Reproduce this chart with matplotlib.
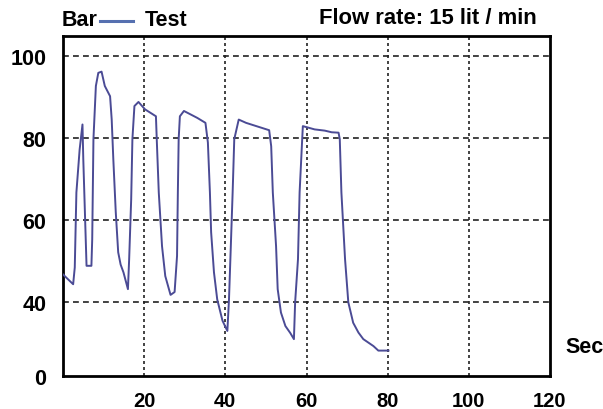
import matplotlib
matplotlib.use("Agg")
import matplotlib.pyplot as plt
from matplotlib.lines import Line2D

plt.rcParams['font.family'] = ['Liberation Sans', 'DejaVu Sans']
plt.rcParams['font.weight'] = 'bold'

# time (s) and pressure (bar)
time_s = [0, 2.5, 2.9, 3.3, 4.1, 4.8, 5.0, 5.6, 5.8, 7.0,
          7.2, 7.5, 8.1, 8.7, 9.5, 10.3, 11.6, 12.0, 12.4, 13.0, 13.6, 14.2, 14.9, 16.0,
          16.3, 16.8, 17.1, 17.6, 18.6, 20.2, 22.9, 23.1, 23.6, 24.4, 25.2, 26.5,
          27.5, 28.1, 28.3, 28.5, 28.8, 29.8, 33.1, 35.1, 35.7, 36.2, 36.5, 37.2, 38.0, 39.3, 40.5,
          40.9, 41.3, 41.8, 42.2, 43.3, 45.1, 50.8, 51.3, 51.7, 52.5, 52.9, 53.7, 54.8, 56.0, 56.9,
          57.2, 57.9, 58.3, 58.9, 59.1, 62.0, 64.5, 66.2, 67.9, 68.2, 68.6, 69.5, 70.3, 71.5, 72.8,
          74.0, 76.5, 77.7, 80.2]
pressure = [46.8, 44.4, 48.5, 66.8, 77.3, 83.4, 74.9, 55.4, 48.9, 48.9,
            55.4, 79.8, 92.8, 96.0, 96.3, 92.8, 90.3, 84.6, 74.9, 62.0, 52.2, 49.2, 47.3, 43.2,
            50.5, 65.1, 79.8, 87.9, 88.9, 87.1, 85.4, 79.8, 66.8, 53.7, 46.4, 41.8,
            42.5, 51.3, 66.8, 79.8, 85.4, 86.7, 85.0, 83.8, 79.0, 66.8, 57.1, 47.3, 40.7, 35.5, 33.0,
            40.7, 52.2, 66.8, 79.8, 84.6, 83.8, 82.0, 78.1, 66.8, 53.7, 43.2, 37.5, 34.2, 32.5, 31.0,
            40.0, 50.5, 66.8, 79.0, 83.0, 82.2, 81.9, 81.5, 81.4, 79.8, 66.8, 50.5, 40.0, 35.0, 32.6,
            31.0, 29.3, 28.2, 28.2]

x_ticks = [20, 40, 60, 80, 100, 120]
y_tick_pos = [22, 40, 60, 80, 100]
y_tick_labels = ['0', '40', '60', '80', '100']

fig = plt.figure(figsize=(6.03, 4.10), dpi=100)
ax = fig.add_axes([63/603, 1-377/410, (550-63)/603, (377-37)/410])

ax.plot(time_s, pressure, color='#4b4b95', lw=1.4, zorder=3)

ax.set_xlim(0, 120)
ax.set_ylim(22, 105)
ax.set_xticks(x_ticks)
ax.set_yticks(y_tick_pos)
ax.set_yticklabels(y_tick_labels)
ax.tick_params(length=0, labelsize=14.5)
ax.tick_params(axis='x', pad=11)
ax.tick_params(axis='y', pad=12, labelsize=15.5)

for v in [40, 60, 80, 100]:
    ax.axhline(v, color='#222222', lw=1.2, ls=(0, (3.5, 2.5)), zorder=1)
for v in [20, 40, 60, 80, 100]:
    ax.axvline(v, color='#222222', lw=1.2, ls=(0, (1.8, 1.8)), zorder=1)

for s in ax.spines.values():
    s.set_linewidth(2.0)
    s.set_color('black')

fig.text(62/603, 1-21/410, 'Bar', fontsize=15.5, ha='left', va='center')
fig.add_artist(Line2D([100/603, 133/603], [1-22/410, 1-22/410], color='#5670b0', lw=2.2))
fig.text(145/603, 1-21/410, 'Test', fontsize=15.5, ha='left', va='center')
fig.text(537/603, 1-19/410, 'Flow rate: 15 lit / min', fontsize=15.8, ha='right', va='center')
fig.text(565/603, 1-348/410, 'Sec', fontsize=15.5, ha='left', va='center')

fig.savefig('out.png', dpi=100)
